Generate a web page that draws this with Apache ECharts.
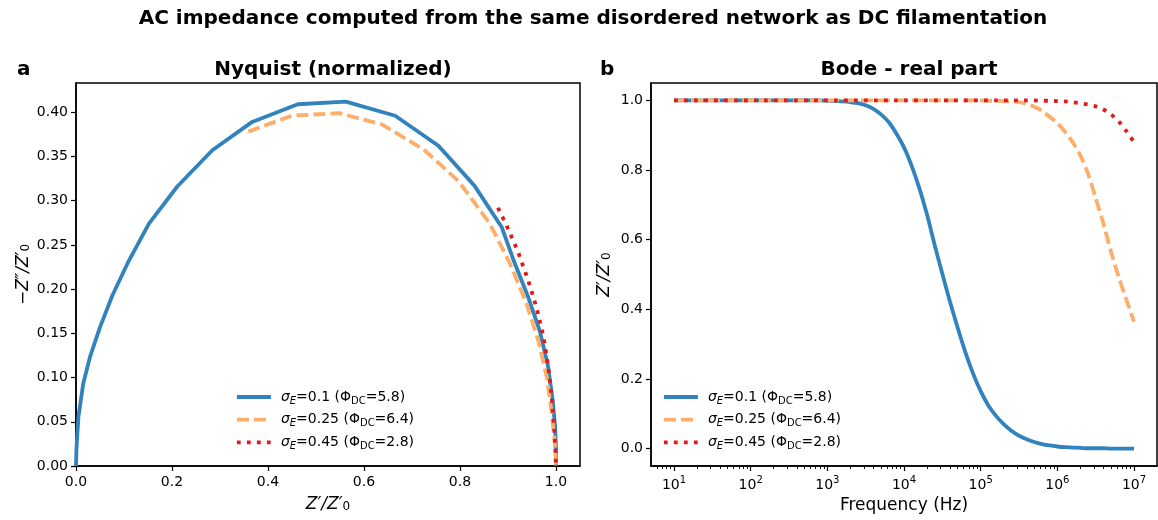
<!DOCTYPE html>
<html>
<head>
<meta charset="utf-8">
<title>AC impedance</title>
<script src="https://cdn.jsdelivr.net/npm/echarts@6.0.0/dist/echarts.min.js"></script>
<style>
  html, body { margin: 0; padding: 0; background: #fff; }
  #main { width: 1158px; height: 520px; }
</style>
</head>
<body>
<div id="main"></div>
<script>
// series labels
var sigmaE = ['0.1', '0.25', '0.45'];
var phiDC = ['5.8', '6.4', '2.8'];
var seriesNames = ['sigma 0.1', 'sigma 0.25', 'sigma 0.45'];

// Nyquist (normalized): Z'/Z'0 and -Z''/Z'0
var nyqBlueRe = [0.0, 0.001, 0.005, 0.015, 0.029, 0.050, 0.076, 0.110, 0.152, 0.211, 0.284, 0.367, 0.462, 0.562, 0.665, 0.755, 0.830, 0.887, 0.912, 0.942, 0.966, 0.983, 0.993, 0.998, 1.0, 1.0];
var nyqBlueIm = [0.0, 0.020, 0.055, 0.093, 0.123, 0.157, 0.193, 0.232, 0.274, 0.316, 0.357, 0.389, 0.409, 0.412, 0.396, 0.362, 0.317, 0.270, 0.232, 0.191, 0.153, 0.114, 0.075, 0.045, 0.020, 0.0];
var nyqOrangeRe = [0.359, 0.449, 0.548, 0.638, 0.724, 0.797, 0.862, 0.904, 0.939, 0.963, 0.981, 0.991, 0.997, 1.0];
var nyqOrangeIm = [0.378, 0.396, 0.399, 0.386, 0.358, 0.322, 0.274, 0.229, 0.183, 0.142, 0.100, 0.060, 0.030, 0.0];
var nyqRedRe = [0.879, 0.897, 0.921, 0.942, 0.960, 0.974, 0.984, 0.991, 0.996, 0.999, 1.0];
var nyqRedIm = [0.292, 0.272, 0.242, 0.210, 0.178, 0.146, 0.112, 0.078, 0.044, 0.015, 0.0];

// Bode real part: log10 of frequency (Hz) and Z'/Z'0
var logFreq = [1.0, 1.1, 1.2, 1.3, 1.4, 1.5, 1.6, 1.7, 1.8, 1.9,
               2.0, 2.1, 2.2, 2.3, 2.4, 2.5, 2.6, 2.7, 2.8, 2.9,
               3.0, 3.1, 3.2, 3.3, 3.4, 3.5, 3.6, 3.7, 3.8, 3.9,
               4.0, 4.1, 4.2, 4.3, 4.4, 4.5, 4.6, 4.7, 4.8, 4.9,
               5.0, 5.1, 5.2, 5.3, 5.4, 5.5, 5.6, 5.7, 5.8, 5.9,
               6.0, 6.1, 6.2, 6.3, 6.4, 6.5, 6.6, 6.7, 6.8, 6.9,
               7.0];
var bodeBlue = [1.0, 1.0, 1.0, 1.0, 1.0, 1.0, 1.0, 1.0, 1.0, 1.0,
                1.0, 1.0, 1.0, 1.0, 1.0, 1.0, 1.0, 1.0, 1.0, 1.0,
                0.999, 0.998, 0.997, 0.995, 0.992, 0.986, 0.976, 0.960, 0.938, 0.905,
                0.865, 0.812, 0.748, 0.672, 0.585, 0.502, 0.422, 0.347, 0.277, 0.216,
                0.165, 0.124, 0.094, 0.070, 0.051, 0.037, 0.027, 0.019, 0.013, 0.009,
                0.006, 0.004, 0.003, 0.002, 0.001, 0.001, 0.001, 0.0, 0.0, 0.0,
                0.0];
var bodeOrange = [1.0, 1.0, 1.0, 1.0, 1.0, 1.0, 1.0, 1.0, 1.0, 1.0,
                  1.0, 1.0, 1.0, 1.0, 1.0, 1.0, 1.0, 1.0, 1.0, 1.0,
                  1.0, 1.0, 1.0, 1.0, 1.0, 1.0, 1.0, 1.0, 1.0, 1.0,
                  1.0, 1.0, 1.0, 1.0, 1.0, 1.0, 1.0, 1.0, 1.0, 1.0,
                  1.0, 0.999, 0.999, 0.998, 0.997, 0.995, 0.990, 0.982, 0.970, 0.953,
                  0.935, 0.910, 0.880, 0.842, 0.790, 0.720, 0.647, 0.566, 0.493, 0.428,
                  0.365];
var bodeRed = [1.0, 1.0, 1.0, 1.0, 1.0, 1.0, 1.0, 1.0, 1.0, 1.0,
               1.0, 1.0, 1.0, 1.0, 1.0, 1.0, 1.0, 1.0, 1.0, 1.0,
               1.0, 1.0, 1.0, 1.0, 1.0, 1.0, 1.0, 1.0, 1.0, 1.0,
               1.0, 1.0, 1.0, 1.0, 1.0, 1.0, 1.0, 1.0, 1.0, 1.0,
               1.0, 1.0, 1.0, 1.0, 1.0, 1.0, 1.0, 1.0, 0.999, 0.999,
               0.998, 0.997, 0.995, 0.992, 0.988, 0.983, 0.974, 0.960, 0.940, 0.912,
               0.880];

// axis ticks
var nyqXTicks = [0.0, 0.2, 0.4, 0.6, 0.8, 1.0];
var nyqYTicks = [0.0, 0.05, 0.10, 0.15, 0.20, 0.25, 0.30, 0.35, 0.40];
var bodeYTicks = [0.0, 0.2, 0.4, 0.6, 0.8, 1.0];
var bodeXDecades = [1, 2, 3, 4, 5, 6, 7];

var FONT = 'DejaVu Sans';
var colors = ['#3182bd', '#fdae6b', '#e31a1c'];
var dashes = ['solid', [12, 5], [3.8, 6.2]];
var LW = 3.8;

// minor ticks of the log axis, 2..9 x 10^n inside the range
var minorTicks = [];
for (var n = 0; n <= 7; n++) {
    for (var k = 2; k <= 9; k++) {
        var v = n + Math.log10(k);
        if (v > 0.7 && v < 7.3) minorTicks.push(v);
    }
}

function pairs(xs, ys) {
    return xs.map(function (x, i) { return [x, ys[i]]; });
}

var nameRich = {
    i: { fontFamily: FONT, fontSize: 17, fontStyle: 'italic', color: '#000' },
    t: { fontFamily: FONT, fontSize: 17, color: '#000' },
    s: { fontFamily: FONT, fontSize: 12, color: '#000', verticalAlign: 'bottom', lineHeight: 14 }
};
var legendRich = {
    s: { fontFamily: FONT, fontSize: 14, fontStyle: 'italic', color: '#000', lineHeight: 18 },
    e: { fontFamily: FONT, fontSize: 10, fontStyle: 'italic', color: '#000', verticalAlign: 'bottom', lineHeight: 12 },
    t: { fontFamily: FONT, fontSize: 14, color: '#000', lineHeight: 18 },
    d: { fontFamily: FONT, fontSize: 10, color: '#000', verticalAlign: 'bottom', lineHeight: 12 }
};

function legendLabel(name) {
    var i = seriesNames.indexOf(name);
    return '{s|σ}{e|E}{t|=' + sigmaE[i] + ' (Φ}{d|DC}{t|=' + phiDC[i] + ')}';
}

var axisCommon = {
    axisLine: { show: true, onZero: false, lineStyle: { color: '#000', width: 1.5 } },
    axisTick: { show: true, length: 5, lineStyle: { color: '#000', width: 1.2 } },
    splitLine: { show: false }
};

function legendFor(left) {
    return {
        data: seriesNames,
        orient: 'vertical',
        left: left,
        top: 390,
        padding: 0,
        itemWidth: 34,
        itemHeight: 14,
        itemGap: 6.7,
        selectedMode: false,
        itemStyle: { opacity: 0 },
        lineStyle: { width: LW },
        formatter: legendLabel,
        textStyle: { fontFamily: FONT, fontSize: 14, color: '#000', padding: [0, 0, 0, 5], rich: legendRich }
    };
}

var series = [];
var nyq = [pairs(nyqBlueRe, nyqBlueIm), pairs(nyqOrangeRe, nyqOrangeIm), pairs(nyqRedRe, nyqRedIm)];
var bode = [pairs(logFreq, bodeBlue), pairs(logFreq, bodeOrange), pairs(logFreq, bodeRed)];
for (var s = 0; s < 3; s++) {
    series.push({
        name: seriesNames[s], type: 'line', xAxisIndex: 0, yAxisIndex: 0,
        data: nyq[s], symbol: 'none', z: 2 + s,
        itemStyle: { color: colors[s] },
        lineStyle: { color: colors[s], width: LW, type: dashes[s], cap: 'butt' }
    });
}
for (var s2 = 0; s2 < 3; s2++) {
    series.push({
        name: seriesNames[s2], type: 'line', xAxisIndex: 1, yAxisIndex: 1,
        data: bode[s2], symbol: 'none', z: 2 + s2,
        smooth: 0.3,
        itemStyle: { color: colors[s2] },
        lineStyle: { color: colors[s2], width: LW, type: dashes[s2], cap: 'butt' }
    });
}

var myChart = echarts.init(document.getElementById('main'), null, { renderer: 'canvas' });

var option = {
    animation: false,
    backgroundColor: '#fff',
    textStyle: { fontFamily: FONT },
    title: [
        { text: 'AC impedance computed from the same disordered network as DC filamentation',
          left: 588, textAlign: 'center', top: 4,
          textStyle: { fontFamily: FONT, fontSize: 20, fontWeight: 'bold', color: '#000' } },
        { text: 'a', left: 12, top: 55, textStyle: { fontFamily: FONT, fontSize: 20, fontWeight: 'bold', color: '#000' } },
        { text: 'Nyquist (normalized)', left: 328, textAlign: 'center', top: 55,
          textStyle: { fontFamily: FONT, fontSize: 20, fontWeight: 'bold', color: '#000' } },
        { text: 'b', left: 595, top: 55, textStyle: { fontFamily: FONT, fontSize: 20, fontWeight: 'bold', color: '#000' } },
        { text: 'Bode - real part', left: 904, textAlign: 'center', top: 55,
          textStyle: { fontFamily: FONT, fontSize: 20, fontWeight: 'bold', color: '#000' } }
    ],
    legend: [legendFor(235), legendFor(662)],
    grid: [
        { left: 76, top: 83, width: 504, height: 383, show: true, borderColor: '#000', borderWidth: 1.5, outerBoundsMode: 'none' },
        { left: 651, top: 83, width: 506, height: 383, show: true, borderColor: '#000', borderWidth: 1.5, outerBoundsMode: 'none' }
    ],
    xAxis: [
        Object.assign({}, axisCommon, {
            type: 'value', gridIndex: 0, position: 'bottom', min: 0, max: 1.05,
            axisLabel: { customValues: nyqXTicks, margin: 9, fontFamily: FONT, fontSize: 14, color: '#000',
                         formatter: function (v) { return v.toFixed(1); } },
            axisTick: { customValues: nyqXTicks, length: 5, lineStyle: { color: '#000', width: 1.2 } },
            name: '{i|Z′/Z′}{s|0}', nameLocation: 'middle', nameGap: 30,
            nameTextStyle: { rich: nameRich }
        }),
        Object.assign({}, axisCommon, {
            type: 'value', gridIndex: 1, position: 'bottom', min: 0.7, max: 7.3,
            axisLabel: { customValues: bodeXDecades, margin: 9, fontFamily: FONT, fontSize: 14, color: '#000',
                         formatter: function (v) { return '{b|10}{p|' + v + '}'; },
                         rich: {
                             b: { fontFamily: FONT, fontSize: 14, color: '#000', lineHeight: 20 },
                             p: { fontFamily: FONT, fontSize: 10, color: '#000', verticalAlign: 'top', lineHeight: 10 }
                         } },
            axisTick: { customValues: bodeXDecades, length: 5, lineStyle: { color: '#000', width: 1.2 } },
            name: 'Frequency (Hz)', nameLocation: 'middle', nameGap: 30,
            nameTextStyle: { fontFamily: FONT, fontSize: 17, color: '#000' }
        }),
        {
            type: 'value', gridIndex: 1, position: 'bottom', min: 0.7, max: 7.3,
            axisLine: { show: false, onZero: false },
            axisLabel: { show: false },
            axisTick: { show: true, customValues: minorTicks, length: 3, lineStyle: { color: '#000', width: 0.9 } },
            splitLine: { show: false }
        }
    ],
    yAxis: [
        Object.assign({}, axisCommon, {
            type: 'value', gridIndex: 0, min: 0, max: 0.433,
            axisLabel: { customValues: nyqYTicks, margin: 8, fontFamily: FONT, fontSize: 14, color: '#000',
                         formatter: function (v) { return v.toFixed(2); } },
            axisTick: { customValues: nyqYTicks, length: 5, lineStyle: { color: '#000', width: 1.2 } },
            name: '{t|−}{i|Z″/Z′}{s|0}', nameLocation: 'middle', nameGap: 44,
            nameTextStyle: { rich: nameRich }
        }),
        Object.assign({}, axisCommon, {
            type: 'value', gridIndex: 1, min: -0.05, max: 1.05,
            axisLabel: { customValues: bodeYTicks, margin: 8, fontFamily: FONT, fontSize: 14, color: '#000',
                         formatter: function (v) { return v.toFixed(1); } },
            axisTick: { customValues: bodeYTicks, length: 5, lineStyle: { color: '#000', width: 1.2 } },
            name: '{i|Z′/Z′}{s|0}', nameLocation: 'middle', nameGap: 38,
            nameTextStyle: { rich: nameRich }
        })
    ],
    series: series
};

myChart.setOption(option);
</script>
</body>
</html>
